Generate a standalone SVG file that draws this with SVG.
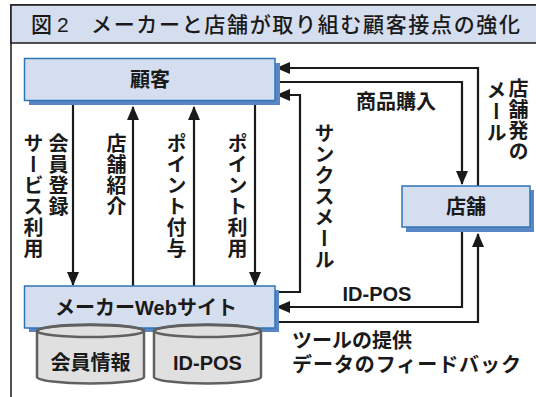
<svg xmlns="http://www.w3.org/2000/svg" width="536" height="397" viewBox="0 0 536 397">
<style>
  .t{font-family:"Liberation Sans","Noto Sans CJK JP",sans-serif;fill:#1a1a1a;font-weight:bold;}
  .title{font-size:21px;font-weight:500;}
  .lbl{font-size:20px;}
  .v{font-size:20px;writing-mode:vertical-rl;letter-spacing:1px;}
  .box{fill:#D5DEEF;stroke:#2E75B6;stroke-width:1.5;}
  .shadow{fill:#5B86C5;}
  .ln{fill:none;stroke:#1a1a1a;stroke-width:2.2;}
  .cyl{fill:#E0E0E0;stroke:#606060;stroke-width:2.5;}
</style>
<defs>
  <marker id="ah" markerWidth="14" markerHeight="12" refX="13" refY="6" orient="auto" markerUnits="userSpaceOnUse">
    <path d="M0,0 L14,6 L0,12 z" fill="#1a1a1a"/>
  </marker>
</defs>
<rect x="0" y="0" width="536" height="397" fill="#ffffff"/>
<g id="frame">
  <rect x="11" y="5" width="540" height="400" fill="#ffffff" stroke="#1a1a1a" stroke-width="1.5"/>
  <rect x="11" y="5" width="540" height="38" fill="#D5DEEF" stroke="#1a1a1a" stroke-width="1.5"/>
  <text class="t title" x="31" y="32">図</text>
  <text class="t title" x="57" y="32">2</text>
  <text class="t title" x="91" y="32" textLength="429" lengthAdjust="spacing">メーカーと店舗が取り組む顧客接点の強化</text>
</g>
<g id="connectors">
  <path class="ln" d="M478,186 V68 H277" marker-end="url(#ah)"/>
  <path class="ln" d="M275,82 H462 V184" marker-end="url(#ah)"/>
  <path class="ln" d="M275,292 H300 V95 H277" marker-end="url(#ah)"/>
  <path class="ln" d="M462,227 V307 H277" marker-end="url(#ah)"/>
  <path class="ln" d="M275,322 H478 V234" marker-end="url(#ah)"/>
  <path class="ln" d="M73,101 V285" marker-end="url(#ah)"/>
  <path class="ln" d="M133,286 V107" marker-end="url(#ah)"/>
  <path class="ln" d="M194,286 V107" marker-end="url(#ah)"/>
  <path class="ln" d="M255,101 V285" marker-end="url(#ah)"/>
  <text class="t v" x="57" y="133">会員登録</text>
  <text class="t v" x="32" y="133">サービス利用</text>
  <text class="t v" x="115" y="133">店舗紹介</text>
  <text class="t v" x="175" y="133">ポイント付与</text>
  <text class="t v" x="236" y="133">ポイント利用</text>
  <text class="t v" x="323" y="123">サンクスメール</text>
  <text class="t v" x="517" y="78">店舗発の</text>
  <text class="t v" x="495" y="80">メール</text>
  <text class="t lbl" x="396" y="109" text-anchor="middle">商品購入</text>
  <text class="t lbl" x="377" y="301" text-anchor="middle">ID-POS</text>
  <text class="t lbl" x="292" y="348">ツールの提供</text>
  <text class="t lbl" x="292" y="372" textLength="229" lengthAdjust="spacing">データのフィードバック</text>
</g>
<g id="customer">
  <rect class="shadow" x="29" y="63" width="251" height="42"/>
  <rect class="box" x="24.5" y="58.5" width="250.5" height="42"/>
  <text class="t lbl" x="150" y="87" text-anchor="middle">顧客</text>
</g>
<g id="store">
  <rect class="shadow" x="406" y="190" width="128" height="42"/>
  <rect class="box" x="402" y="186" width="128" height="41"/>
  <text class="t lbl" x="466" y="214" text-anchor="middle">店舗</text>
</g>
<g id="website">
  <rect class="shadow" x="29" y="290" width="250" height="42"/>
  <rect class="box" x="24.5" y="286" width="250.5" height="42"/>
  <text class="t lbl" x="146" y="315" text-anchor="middle">メーカーWebサイト</text>
</g>
<g id="db-member">
  <path class="cyl" d="M37,331 V377 A53.5,6.5 0 0 0 144,377 V331 A53.5,6.5 0 0 0 37,331 z"/>
  <ellipse cx="90.5" cy="331" rx="53.5" ry="6" fill="none" stroke="#606060" stroke-width="2.5"/>
  <text class="t lbl" x="90.5" y="370" text-anchor="middle">会員情報</text>
</g>
<g id="db-idpos">
  <path class="cyl" d="M154,331 V377 A53.5,6.5 0 0 0 261,377 V331 A53.5,6.5 0 0 0 154,331 z"/>
  <ellipse cx="207.5" cy="331" rx="53.5" ry="6" fill="none" stroke="#606060" stroke-width="2.5"/>
  <text class="t lbl" x="207.5" y="370" text-anchor="middle">ID-POS</text>
</g>
</svg>
